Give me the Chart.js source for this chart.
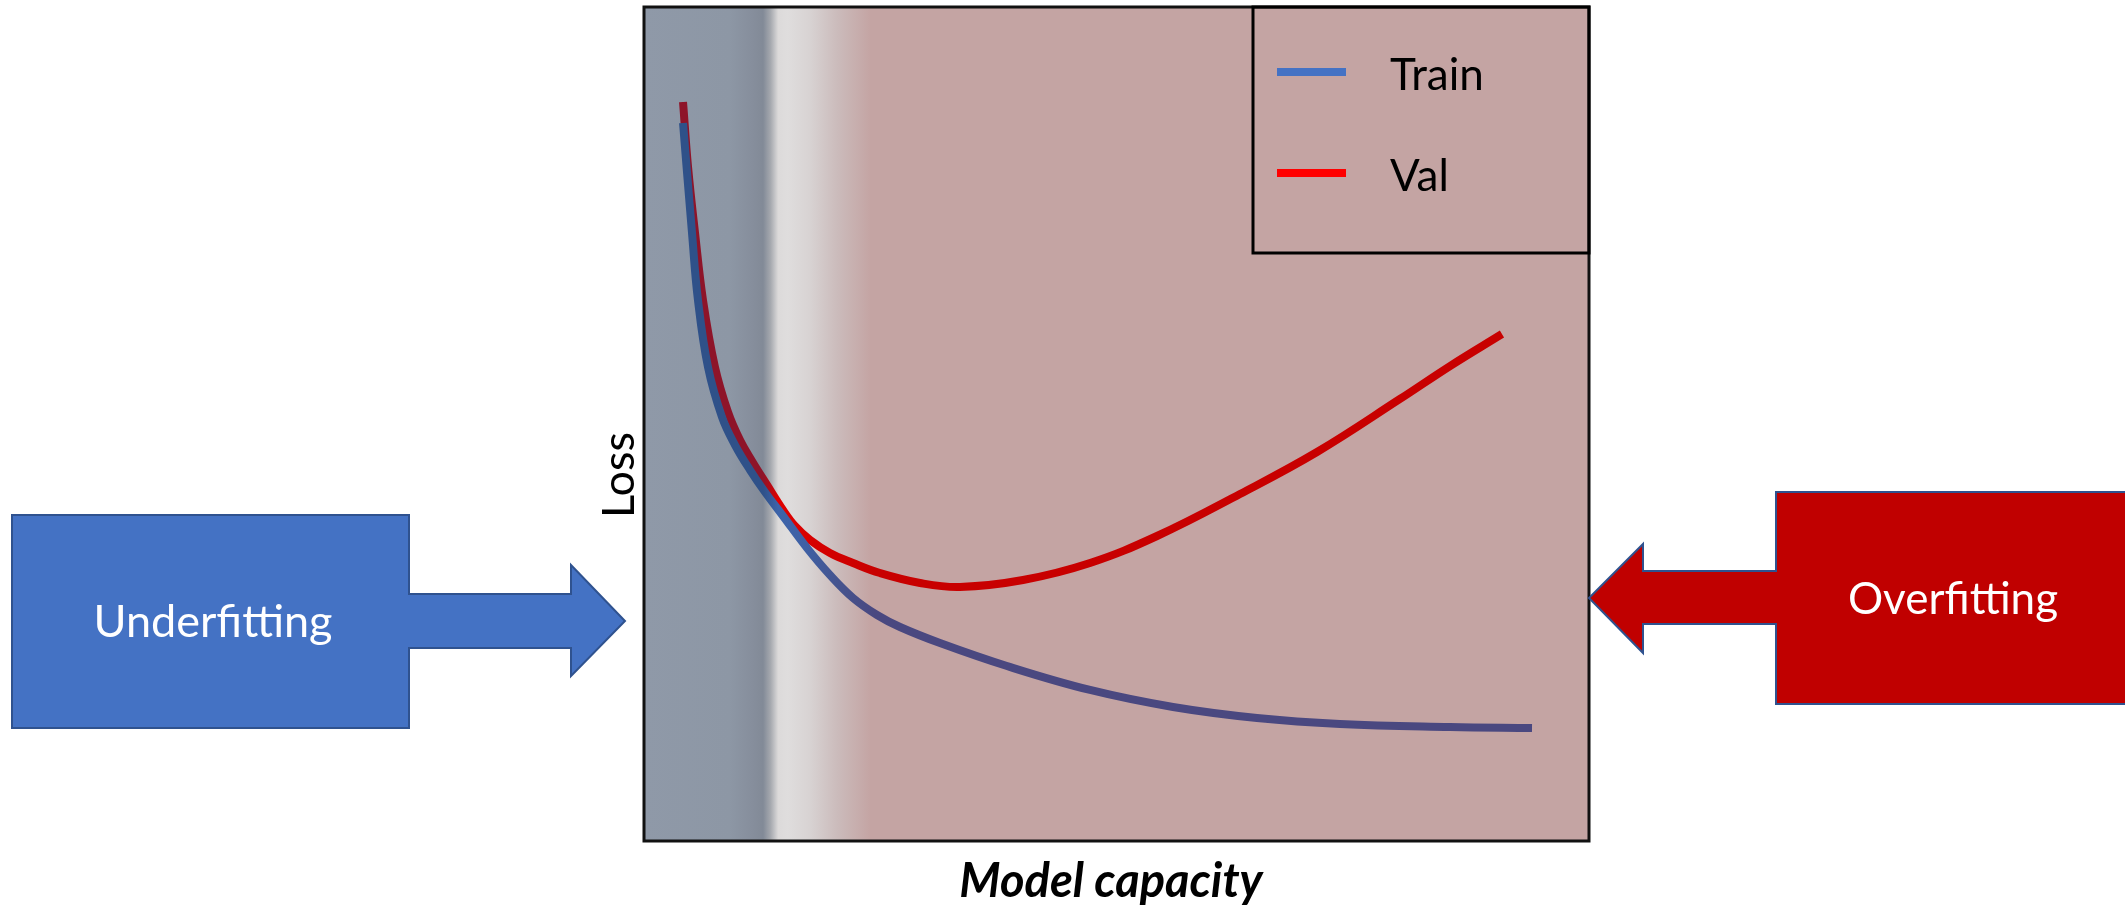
<!DOCTYPE html>
<html>
<head>
<meta charset="utf-8">
<script src="https://cdn.jsdelivr.net/npm/chart.js@4.4.1/dist/chart.umd.min.js"></script>
<style>
  html, body { margin: 0; padding: 0; background: #ffffff; }
  #c { display: block; }
</style>
</head>
<body>
<canvas id="c" width="2125" height="907"></canvas>
<script>
// ---- data ----
const seriesLabels = ['Train', 'Val'];
const trainCapacity = [4.13, 5.08, 5.71, 6.77, 8.25, 9.63, 11.22, 12.80, 14.71, 17.25, 19.68, 22.12, 24.66, 27.09, 31.32, 38.41, 47.20, 55.98, 64.87, 73.65, 85.29, 93.97];
const trainLoss     = [86.09, 72.90, 64.87, 56.83, 50.84, 47.48, 44.48, 41.85, 38.97, 35.13, 31.89, 29.14, 27.10, 25.66, 23.74, 20.98, 18.11, 16.07, 14.75, 14.03, 13.67, 13.55];
const valCapacity   = [4.13, 4.66, 5.40, 6.24, 7.51, 8.89, 10.16, 11.43, 13.02, 14.71, 15.98, 17.57, 19.68, 22.12, 24.97, 29.21, 33.44, 40.11, 47.20, 54.29, 63.07, 71.22, 80.00, 85.29, 90.79];
const valLoss       = [88.61, 80.82, 72.90, 64.87, 56.83, 51.44, 48.08, 45.56, 42.69, 39.69, 37.77, 36.09, 34.53, 33.33, 32.13, 30.94, 30.46, 31.29, 33.33, 36.57, 41.61, 46.64, 53.00, 56.95, 60.79];
const arrowLabels = ['Underfitting', 'Overfitting'];
const xAxisTitle = 'Model capacity';
const yAxisTitle = 'Loss';

const FONT = 'Lato, "Open Sans", "Noto Sans", sans-serif';

function toPoints(xs, ys) { return xs.map((x, i) => ({ x: x, y: ys[i] })); }

function hGradient(chart, stops) {
  const a = chart.chartArea;
  if (!a) return stops[0][1];
  const g = chart.ctx.createLinearGradient(a.left, 0, a.right, 0);
  stops.forEach(s => g.addColorStop(s[0], s[1]));
  return g;
}

const bgStops = [
  [0, '#8f99a8'], [0.09, '#8d97a5'], [0.115, '#868e9c'], [0.126, '#828a97'],
  [0.134, '#a6a9af'], [0.142, '#dcdada'], [0.152, '#dfdddd'], [0.175, '#d8d3d3'],
  [0.205, '#cbbbbb'], [0.24, '#c4a4a3'], [1, '#c4a4a3']
];
const trainStops = [
  [0, '#2f5189'], [0.126, '#2f5189'], [0.142, '#3d64aa'], [0.17, '#3f60a4'],
  [0.205, '#45548f'], [0.245, '#4a4880'], [1, '#4a4880']
];
const valStops = [
  [0, '#8e1429'], [0.126, '#8e1429'], [0.142, '#e00000'], [0.17, '#d80000'],
  [0.245, '#c80000'], [1, '#c80000']
];
const legendColors = { Train: '#4472c4', Val: '#ff0000' };

const decorPlugin = {
  id: 'decor',
  beforeDatasetsDraw(chart) {
    const ctx = chart.ctx, a = chart.chartArea;
    ctx.save();
    ctx.fillStyle = hGradient(chart, bgStops);
    ctx.fillRect(a.left, a.top, a.right - a.left, a.bottom - a.top);
    ctx.restore();
  },
  afterDraw(chart) {
    const ctx = chart.ctx, a = chart.chartArea;
    ctx.save();
    // plot frame
    ctx.strokeStyle = '#111111';
    ctx.lineWidth = 3;
    ctx.strokeRect(a.left, a.top, a.right - a.left, a.bottom - a.top);

    // legend box
    const lx = 1253, ly = a.top, lw = a.right - lx, lh = 246;
    ctx.lineWidth = 3;
    ctx.strokeStyle = '#000000';
    ctx.strokeRect(lx, ly, lw, lh);
    const legendY = [72, 173];
    chart.data.datasets.forEach((ds, i) => {
      ctx.fillStyle = legendColors[ds.label];
      ctx.fillRect(1277, legendY[i] - 4, 69, 8);
      ctx.fillStyle = '#000000';
      ctx.font = '44px ' + FONT;
      ctx.textAlign = 'left';
      ctx.textBaseline = 'middle';
      ctx.fillText(ds.label, 1390, legendY[i] + 4);
    });

    // Underfitting arrow (pointing right)
    ctx.lineJoin = 'miter';
    ctx.lineWidth = 2;
    ctx.strokeStyle = '#2f528f';
    ctx.fillStyle = '#4472c4';
    ctx.beginPath();
    ctx.moveTo(12, 515); ctx.lineTo(409, 515); ctx.lineTo(409, 594);
    ctx.lineTo(571, 594); ctx.lineTo(571, 565); ctx.lineTo(625, 621);
    ctx.lineTo(571, 676); ctx.lineTo(571, 648); ctx.lineTo(409, 648);
    ctx.lineTo(409, 728); ctx.lineTo(12, 728); ctx.closePath();
    ctx.fill(); ctx.stroke();

    // Overfitting arrow (pointing left)
    ctx.fillStyle = '#c00000';
    ctx.beginPath();
    ctx.moveTo(2135, 492); ctx.lineTo(1776, 492); ctx.lineTo(1776, 571);
    ctx.lineTo(1643, 571); ctx.lineTo(1643, 544); ctx.lineTo(1589, 598);
    ctx.lineTo(1643, 653); ctx.lineTo(1643, 624); ctx.lineTo(1776, 624);
    ctx.lineTo(1776, 704); ctx.lineTo(2135, 704); ctx.closePath();
    ctx.fill(); ctx.stroke();

    ctx.fillStyle = '#ffffff';
    ctx.textAlign = 'center';
    ctx.textBaseline = 'middle';
    ctx.font = '45px ' + FONT;
    ctx.fillText(arrowLabels[0], 213, 622);
    ctx.font = '44px ' + FONT;
    ctx.fillText(arrowLabels[1], 1953, 600);

    // axis titles
    ctx.fillStyle = '#000000';
    ctx.font = 'italic bold 47px ' + FONT;
    ctx.fillText(xAxisTitle, 1111, 882);
    ctx.save();
    ctx.translate(619, 475);
    ctx.rotate(-Math.PI / 2);
    ctx.font = '45px ' + FONT;
    ctx.fillText(yAxisTitle, 0, 0);
    ctx.restore();
    ctx.restore();
  }
};

new Chart(document.getElementById('c'), {
  type: 'line',
  data: {
    datasets: [
      {
        label: seriesLabels[0],
        data: toPoints(trainCapacity, trainLoss),
        borderColor: (c) => hGradient(c.chart, trainStops),
        borderWidth: 8,
        pointRadius: 0,
        tension: 0.4,
        fill: false,
        order: 1
      },
      {
        label: seriesLabels[1],
        data: toPoints(valCapacity, valLoss),
        borderColor: (c) => hGradient(c.chart, valStops),
        borderWidth: 8,
        pointRadius: 0,
        tension: 0.4,
        fill: false,
        order: 2
      }
    ]
  },
  options: {
    responsive: false,
    animation: false,
    devicePixelRatio: 1,
    layout: { padding: { left: 644, right: 536, top: 7, bottom: 66 } },
    scales: {
      x: { type: 'linear', min: 0, max: 100, display: false },
      y: { type: 'linear', min: 0, max: 100, display: false }
    },
    plugins: {
      legend: { display: false },
      tooltip: { enabled: false }
    }
  },
  plugins: [decorPlugin]
});
</script>
</body>
</html>
